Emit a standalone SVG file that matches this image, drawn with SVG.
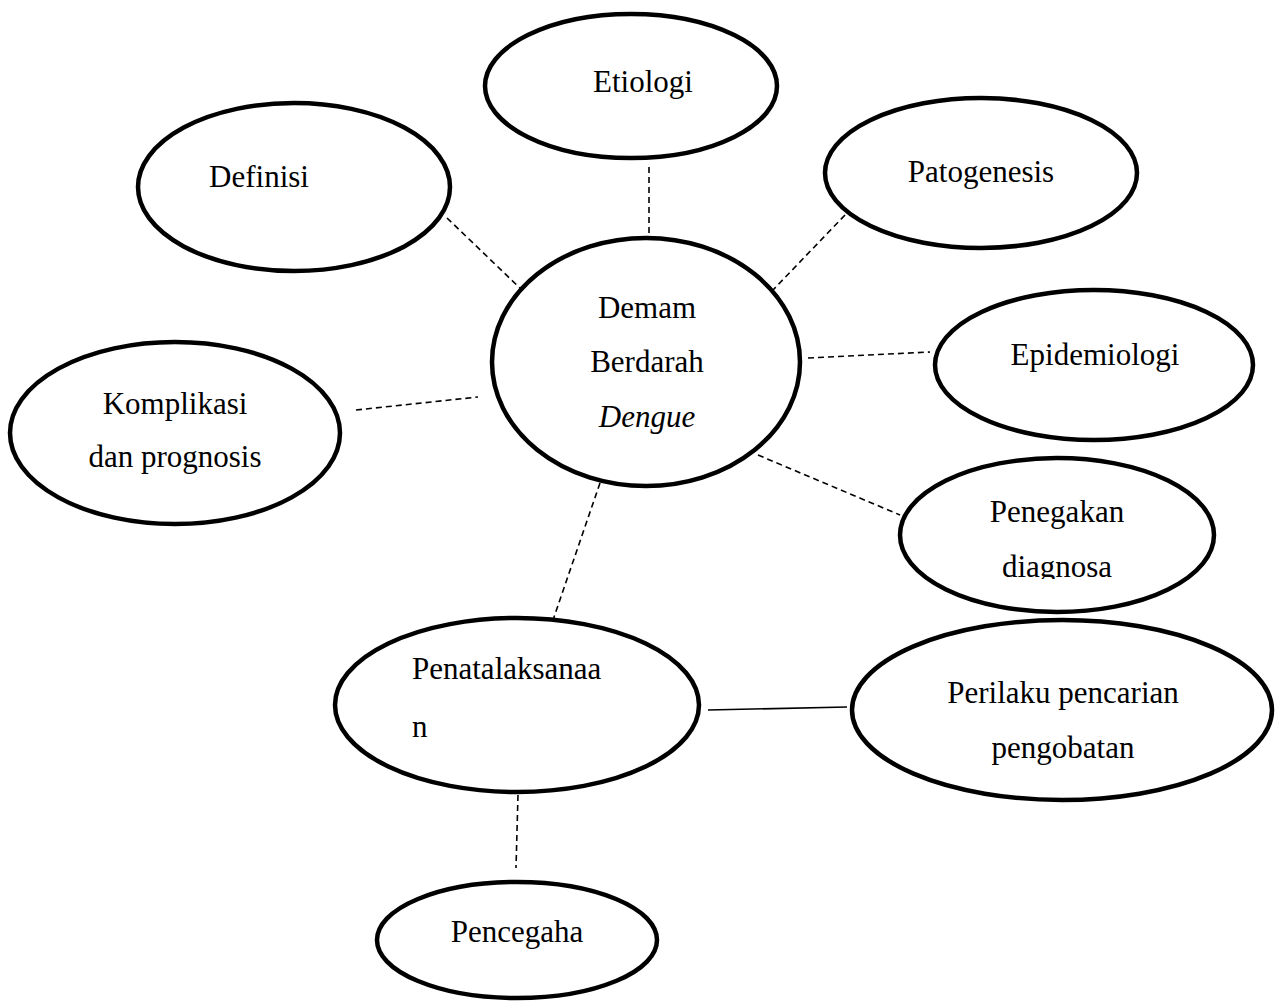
<svg xmlns="http://www.w3.org/2000/svg" width="1280" height="1001" viewBox="0 0 1280 1001">
<style>
.n{fill:#fff;stroke:#000;stroke-width:4.5}
.t{font-family:"Liberation Serif","Times New Roman",serif;font-size:31px;fill:#000}
.c{stroke:#000;stroke-width:1.6;fill:none}
.d{stroke-dasharray:6 4}
</style>
<defs>
<clipPath id="clipDiag"><rect x="880" y="440" width="340" height="139"/></clipPath>
</defs>
<rect width="1280" height="1001" fill="#fff"/>
<g id="connectors">
<line class="c d" x1="649" y1="167" x2="649" y2="238"/>
<line class="c d" x1="447" y1="218" x2="522" y2="290"/>
<line class="c d" x1="845" y1="215" x2="773" y2="290"/>
<line class="c d" x1="808" y1="358" x2="930" y2="352"/>
<line class="c d" x1="356" y1="410" x2="478" y2="397"/>
<line class="c d" x1="758" y1="455" x2="900" y2="515"/>
<line class="c d" x1="600" y1="483" x2="553" y2="620"/>
<line class="c" x1="708" y1="710" x2="847" y2="707"/>
<line class="c d" x1="518" y1="795" x2="516" y2="868"/>
</g>
<g id="etiologi"><ellipse class="n" cx="631" cy="86" rx="146" ry="72"/><text class="t" x="643" y="92" text-anchor="middle">Etiologi</text></g>
<g id="definisi"><ellipse class="n" cx="294" cy="187" rx="156" ry="84"/><text class="t" x="259" y="187" text-anchor="middle">Definisi</text></g>
<g id="patogenesis"><ellipse class="n" cx="981" cy="173" rx="156" ry="75"/><text class="t" x="981" y="182" text-anchor="middle">Patogenesis</text></g>
<g id="dbd"><ellipse class="n" cx="646" cy="362" rx="154" ry="124"/>
<text class="t" x="647" y="318" text-anchor="middle">Demam</text>
<text class="t" x="647" y="372" text-anchor="middle">Berdarah</text>
<text class="t" x="647" y="427" text-anchor="middle" font-style="italic">Dengue</text></g>
<g id="epidemiologi"><ellipse class="n" cx="1094" cy="365" rx="159" ry="75"/><text class="t" x="1095" y="365" text-anchor="middle">Epidemiologi</text></g>
<g id="komplikasi"><ellipse class="n" cx="175" cy="433" rx="165" ry="91"/>
<text class="t" x="175" y="414" text-anchor="middle">Komplikasi</text>
<text class="t" x="175" y="467" text-anchor="middle">dan prognosis</text></g>
<g id="penegakan"><ellipse class="n" cx="1057" cy="535" rx="157" ry="77"/>
<text class="t" x="1057" y="522" text-anchor="middle">Penegakan</text>
<text class="t" x="1057" y="577" text-anchor="middle" clip-path="url(#clipDiag)">diagnosa</text></g>
<g id="penatalaksanaan"><ellipse class="n" cx="517" cy="705" rx="182" ry="87"/>
<text class="t" x="412" y="679">Penatalaksanaa</text>
<text class="t" x="412" y="737">n</text></g>
<g id="perilaku"><ellipse class="n" cx="1062" cy="710" rx="210" ry="90"/>
<text class="t" x="1063" y="703" text-anchor="middle">Perilaku pencarian</text>
<text class="t" x="1063" y="758" text-anchor="middle">pengobatan</text></g>
<g id="pencegaha"><ellipse class="n" cx="517" cy="940" rx="140" ry="58"/><text class="t" x="517" y="942" text-anchor="middle">Pencegaha</text></g>
</svg>
